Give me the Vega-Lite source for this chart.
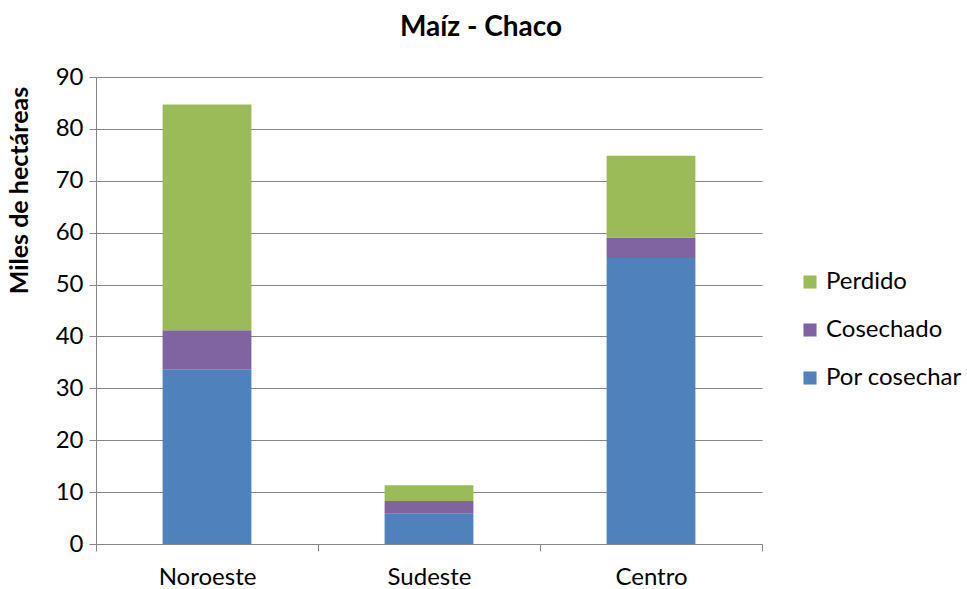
{
  "$schema": "https://vega.github.io/schema/vega-lite/v6.json",
  "width": 666,
  "height": 467,
  "autosize": {"type": "none"},
  "padding": {"left": 96, "top": 77, "right": 205, "bottom": 45},
  "background": "white",
  "title": {
    "text": "Maíz - Chaco",
    "font": "Lato",
    "fontSize": 28,
    "fontWeight": "bold",
    "color": "black",
    "anchor": "middle",
    "dx": 52,
    "offset": 23
  },
  "data": {
    "values": [
      {"region": "Noroeste", "serie": "Por cosechar", "orden": 1, "valor": 33.6},
      {"region": "Noroeste", "serie": "Cosechado", "orden": 2, "valor": 7.6},
      {"region": "Noroeste", "serie": "Perdido", "orden": 3, "valor": 43.5},
      {"region": "Sudeste", "serie": "Por cosechar", "orden": 1, "valor": 5.85},
      {"region": "Sudeste", "serie": "Cosechado", "orden": 2, "valor": 2.45},
      {"region": "Sudeste", "serie": "Perdido", "orden": 3, "valor": 3.0},
      {"region": "Centro", "serie": "Por cosechar", "orden": 1, "valor": 55.1},
      {"region": "Centro", "serie": "Cosechado", "orden": 2, "valor": 3.95},
      {"region": "Centro", "serie": "Perdido", "orden": 3, "valor": 15.75}
    ]
  },
  "mark": {"type": "bar", "width": {"band": 0.4}},
  "encoding": {
    "x": {
      "field": "region",
      "type": "nominal",
      "sort": ["Noroeste", "Sudeste", "Centro"],
      "scale": {"paddingInner": 0, "paddingOuter": 0},
      "axis": {
        "title": null,
        "labelAngle": 0,
        "labelFont": "Lato",
        "labelFontSize": 24,
        "labelColor": "black",
        "labelPadding": 14,
        "domainColor": "#868686",
        "tickColor": "#868686",
        "tickSize": 7,
        "tickBand": "extent",
        "grid": false
      }
    },
    "y": {
      "field": "valor",
      "type": "quantitative",
      "stack": "zero",
      "scale": {"domain": [0, 90]},
      "axis": {
        "title": "Miles de hectáreas",
        "titleFont": "Lato",
        "titleFontSize": 25,
        "titleFontWeight": "bold",
        "titleColor": "black",
        "titlePadding": 23,
        "titleY": 113,
        "titleAlign": "center",
        "values": [0, 10, 20, 30, 40, 50, 60, 70, 80, 90],
        "labelFont": "Lato",
        "labelFontSize": 24,
        "labelColor": "black",
        "labelPadding": 6,
        "domainColor": "#868686",
        "tickColor": "#868686",
        "tickSize": 7,
        "grid": true,
        "gridColor": "#868686",
        "gridWidth": 1
      }
    },
    "color": {
      "field": "serie",
      "type": "nominal",
      "scale": {
        "domain": ["Perdido", "Cosechado", "Por cosechar"],
        "range": ["#9BBB59", "#8064A2", "#4F81BD"]
      },
      "legend": {
        "title": null,
        "orient": "none",
        "legendX": 702,
        "legendY": 193,
        "symbolType": "square",
        "symbolSize": 170,
        "symbolStrokeWidth": 0,
        "labelFont": "Lato",
        "labelFontSize": 24,
        "labelColor": "black",
        "rowPadding": 24,
        "labelOffset": 4
      }
    },
    "order": {"field": "orden", "type": "quantitative"}
  },
  "config": {"view": {"stroke": null}}
}
